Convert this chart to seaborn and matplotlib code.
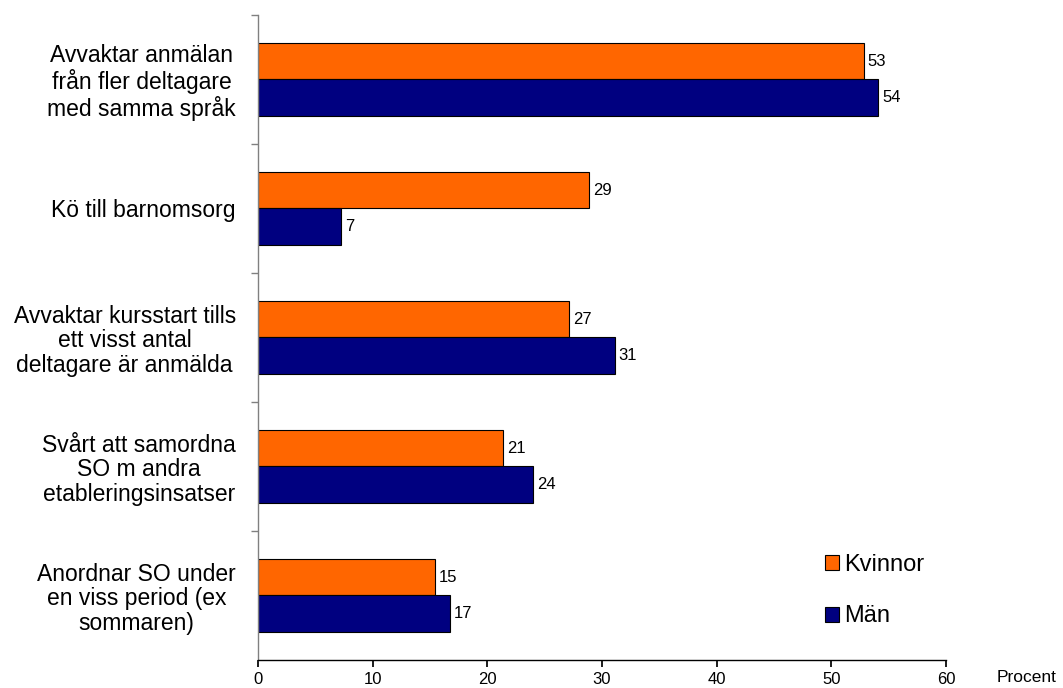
import matplotlib
matplotlib.use("Agg")
import matplotlib.pyplot as plt
import seaborn as sns
import pandas as pd
import numpy as np
from matplotlib.ticker import FixedLocator

categories = [
    "Avvaktar anmälan\nfrån fler deltagare\nmed samma språk",
    "Kö till barnomsorg",
    "Avvaktar kursstart tills\nett visst antal\ndeltagare är anmälda",
    "Svårt att samordna\nSO m andra\netableringsinsatser",
    "Anordnar SO under\nen viss period (ex\nsommaren)",
]
kvinnor = [52.8, 28.9, 27.1, 21.4, 15.4]
man = [54.1, 7.2, 31.1, 24.0, 16.7]
series = ["Kvinnor", "Män"]
colors = ["#FF6600", "#000080"]
xticks = [0, 10, 20, 30, 40, 50, 60]

sns.set_theme(style="white")
plt.rcParams['font.family'] = ['Liberation Sans', 'DejaVu Sans']
plt.rcParams['text.color'] = 'black'
plt.rcParams['xtick.color'] = 'black'
plt.rcParams['ytick.color'] = 'black'

df = pd.DataFrame({
    "cat": categories * 2,
    "val": kvinnor + man,
    "serie": [series[0]] * len(categories) + [series[1]] * len(categories),
})

fig = plt.figure(figsize=(10.63, 6.88), dpi=100)
ax = fig.add_axes([0.2427, 0.0407, 0.6473, 0.9375])

sns.barplot(data=df, y="cat", x="val", hue="serie", hue_order=series,
            palette=colors, orient="h", width=0.57, edgecolor="black",
            linewidth=0.8, saturation=1, ax=ax, legend=True)

for cont in ax.containers:
    ax.bar_label(cont, labels=[f"{v:.0f}" for v in cont.datavalues],
                 padding=3, fontsize=12, color="black")

ax.set_xlim(0, 60)
ax.set_ylim(len(categories) - 0.5, -0.5)
ax.set_xticks(xticks)
ax.set_xticklabels([str(t) for t in xticks], fontsize=12)
ax.set_yticks(range(len(categories)))
ax.set_yticklabels(categories, fontsize=16.5, multialignment="center",
                   linespacing=1.1)
ax.yaxis.set_minor_locator(FixedLocator(np.arange(-0.5, len(categories) - 0.5, 1.0)))
ax.tick_params(axis="y", which="major", length=0, pad=16)
ax.tick_params(axis="y", which="minor", length=5, color="#808080", left=True)
ax.tick_params(axis="x", which="major", length=5, color="black", bottom=True, pad=4)
ax.set_xlabel("")
ax.set_ylabel("")

for s in ["top", "right"]:
    ax.spines[s].set_visible(False)
ax.spines["left"].set_color("#808080")
ax.spines["left"].set_linewidth(1.0)
ax.spines["bottom"].set_color("black")
ax.spines["bottom"].set_linewidth(1.0)

fig.text(997 / 1063, 1 - 677 / 688, "Procent", fontsize=12.5, ha="left", va="center")

leg = ax.legend(loc="lower left", bbox_to_anchor=(0.81, 0.036), frameon=False,
                fontsize=17, handlelength=0.6, handleheight=0.6,
                handletextpad=0.2, labelspacing=1.25, borderaxespad=0)

fig.savefig("out.png", dpi=100, facecolor="white")
